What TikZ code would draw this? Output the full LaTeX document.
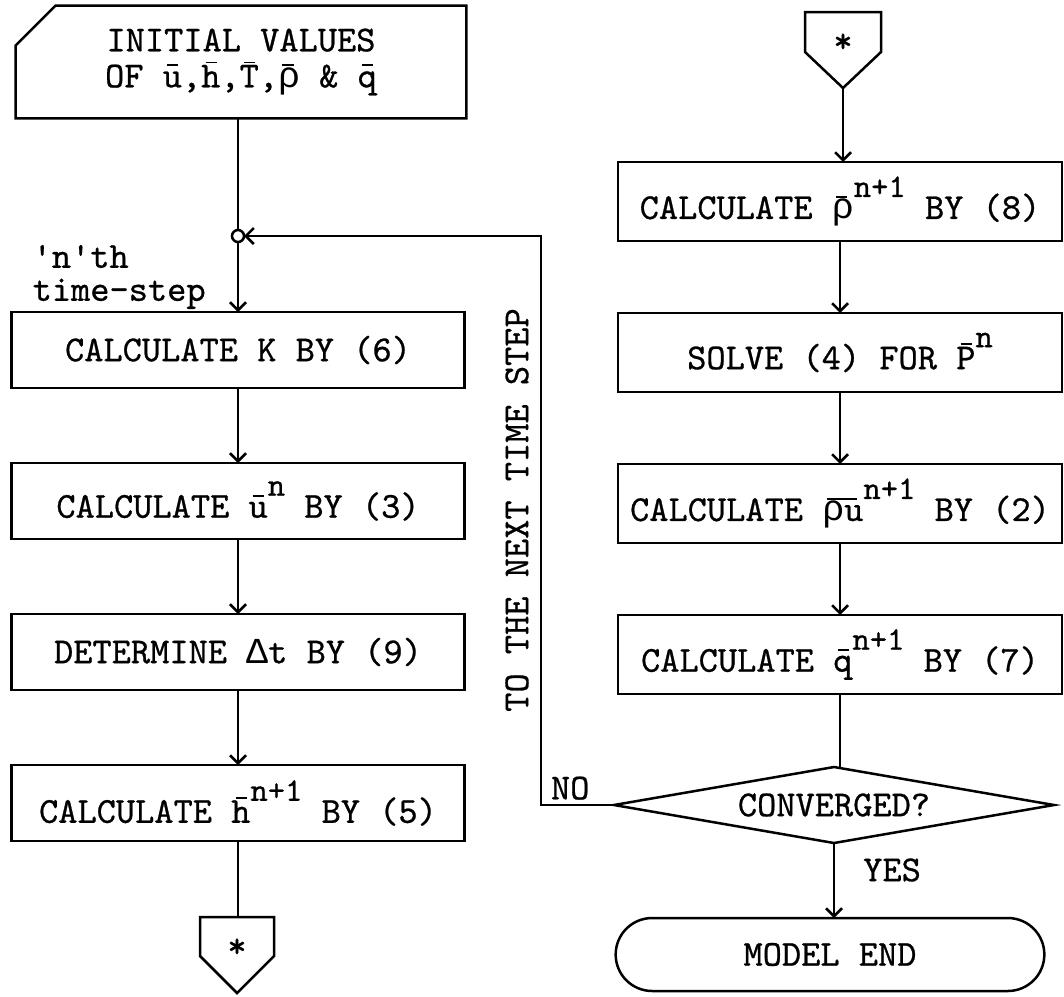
\documentclass[tikz,border=0pt]{standalone}
\usepackage{fontspec}
\setmonofont{lmmono10-regular.otf}[FakeBold=0.7]
\newfontfamily\grk{Liberation Mono}
\usepackage{tikz}
\usetikzlibrary{arrows.meta,positioning,shapes.geometric,shapes.misc}
\newcommand{\flowfont}{\ttfamily\fontsize{18.3}{15}\selectfont}
\newcommand{\ob}[2][5.6pt]{\makebox[0pt][l]{\hspace{2.2pt}\rule[10.6pt]{#1}{0.9pt}}#2}
\newcommand{\obt}[2][5.6pt]{\makebox[0pt][l]{\hspace{2.2pt}\rule[12pt]{#1}{0.9pt}}#2}
\newcommand{\nup}[1]{\raisebox{11pt}{\fontsize{16.5}{16}\selectfont #1}}
\newcommand{\rh}{{\grk ρ}}

\begin{document}
\begin{tikzpicture}[x=0.5pt,y=-0.5pt,
  line/.style={line width=1.25pt},
  arr/.style={line,-{Straight Barb[length=4pt,width=8pt]}},
  proc/.style={draw,line,inner sep=0pt,outer sep=0pt,font=\flowfont},
  lproc/.style={proc,minimum width=226.5pt,minimum height=38pt},
  rproc/.style={proc,minimum width=222pt,minimum height=39.5pt},
  lbl/.style={font=\flowfont,inner sep=2pt},
  star/.style={font=\flowfont,inner sep=0pt},
  test/.style={diamond,draw,line,aspect=5.8,minimum width=220pt,minimum height=38pt,
    inner sep=0pt,outer sep=0pt,font=\flowfont},
  stop/.style={rounded rectangle,draw,line,minimum width=221pt,minimum height=36.5pt,
    outer sep=0pt,font=\flowfont}]
  \useasboundingbox (0,0) rectangle (1064,996);

  % left column
  \node[minimum width=225pt,minimum height=56pt,inner sep=0pt,align=center,font=\flowfont]
    (init) at (241,62) {INITIAL VALUES\\[3pt]OF \ob{u},\obt{h},\obt{T},\ob{\rh} \& \ob{q}};
  \draw[line] ([xshift=20pt]init.north west) -- (init.north east) -- (init.south east)
    -- (init.south west) -- ([yshift=-20pt]init.north west) -- cycle;
  \node[circle,draw,line,fill=white,minimum size=6pt,inner sep=0pt,outer sep=0pt]
    (join) at (238,236) {};
  \node[lbl,align=left,anchor=east] (step) at (210,277) {'n'th\\[1.5pt]time-step};
  \node[lproc,below=35pt of join] (kcoef) {CALCULATE K BY (6)};
  \node[lproc,below=37.5pt of kcoef] (vel) {CALCULATE \ob{u}\nup{n}\ BY (3)};
  \node[lproc,below=37.5pt of vel] (tstep) {DETERMINE {\grk Δ}t BY (9)};
  \node[lproc,below=37.5pt of tstep] (depth) {CALCULATE \obt{h}\nup{n+1}\ BY (5)};
  \coordinate (startB) at (237,917);
  \draw[line] (startB) ++(-37,0) -- ++(74,0) -- ++(0,39) -- ++(-37,37) -- ++(-37,-37) -- cycle;
  \node[star] (starB) at (237,948) {*};
  \draw[line] (init.south -| join) -- (join);
  \draw[arr] (join) -- (kcoef);
  \draw[arr] (kcoef) -- (vel);
  \draw[arr] (vel) -- (tstep);
  \draw[arr] (tstep) -- (depth);
  \draw[line] (depth) -- (depth.south |- startB);

  % right column
  \coordinate (startA) at (843,12);
  \draw[line] (startA) ++(-38,0) -- ++(76,0) -- ++(0,40) -- ++(-38,36) -- ++(-38,-36) -- cycle;
  \node[star] (starA) at (843,43) {*};
  \coordinate (startAtip) at (843,88);
  \node[rproc] (rho) at (840,201.5) {CALCULATE \ob{\rh}\nup{n+1}\ BY (8)};
  \node[rproc,below=36pt of rho] (pres) {SOLVE (4) FOR \obt{P}\nup{n}};
  \node[rproc,below=36pt of pres] (mom) {CALCULATE \ob[15pt]{\rh u}\nup{n+1}\ BY (2)};
  \node[rproc,below=36pt of mom] (heat) {CALCULATE \ob{q}\nup{n+1}\ BY (7)};
  \node[test,below=36.5pt of heat,xshift=-3pt] (conv) {CONVERGED?};
  \node[stop,below=37.5pt of conv,xshift=-2pt] (fin) {MODEL END};
  \draw[arr] (startAtip) -- (startAtip |- rho.north);
  \draw[arr] (rho) -- (pres);
  \draw[arr] (pres) -- (mom);
  \draw[arr] (mom) -- (heat);
  \draw[line] (heat) -- (heat.south |- conv.north);
  \draw[arr] (conv.south) -- node[lbl,pos=0.36,right=12pt] (yes) {YES} (conv.south |- fin.north);

  % back to the next step
  \coordinate (back) at (541,236);
  \draw[arr] (conv.west) -| node[lbl,pos=0.3,above] (no) {NO} (back) -- (join);
  \node[lbl,rotate=90] (tonext) at (517,510) {TO THE NEXT TIME STEP};
\end{tikzpicture}
\end{document}
